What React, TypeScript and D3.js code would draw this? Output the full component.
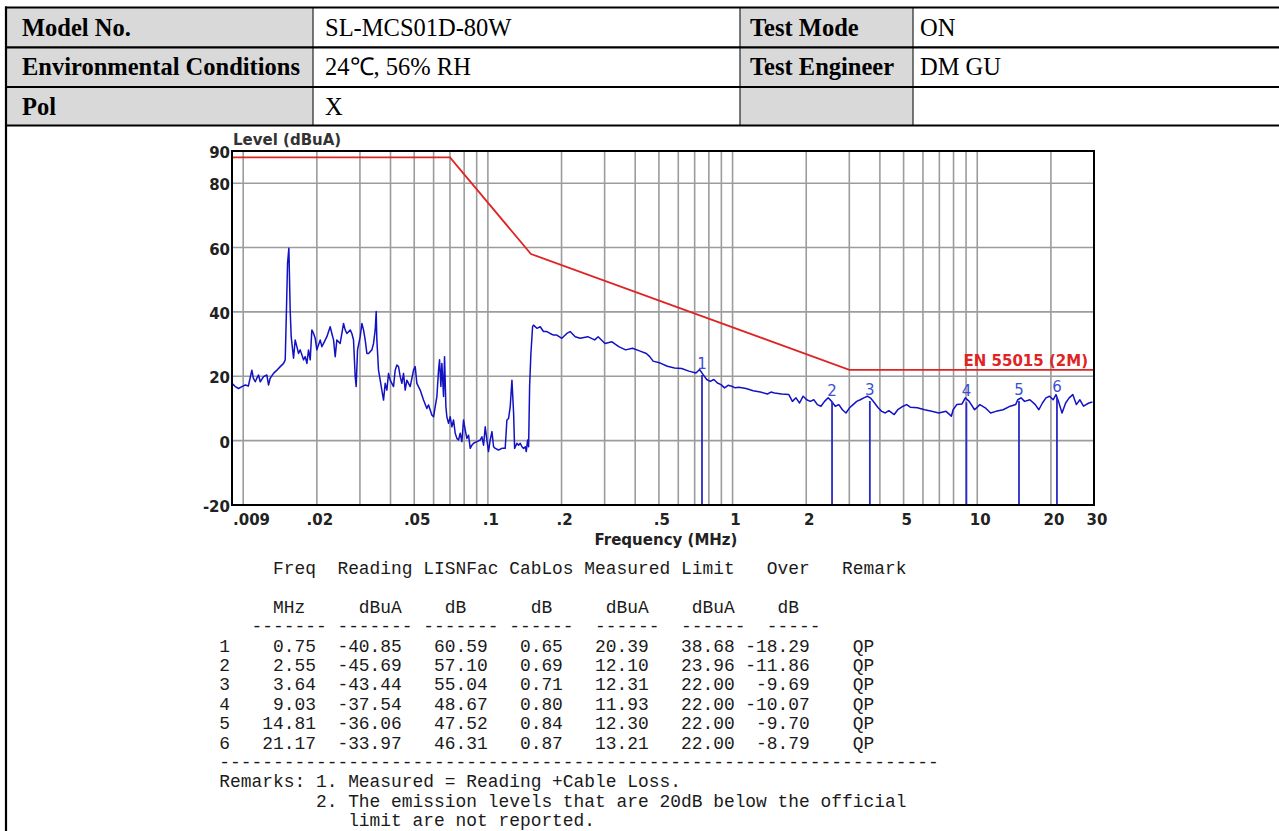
import React from 'react';
import * as d3 from 'd3';

// ---- header table ----
const headerRows = [
  ['Model No.', 'SL-MCS01D-80W', 'Test Mode', 'ON'],
  ['Environmental Conditions', '24℃, 56% RH', 'Test Engineer', 'DM GU'],
  ['Pol', 'X', '', ''],
];

// ---- chart data ----
const yTicks = [90, 80, 60, 40, 20, 0, -20];
const yGrid = [80, 60, 40, 20, 0];
const xTicks = [0.009, 0.02, 0.05, 0.1, 0.2, 0.5, 1, 2, 5, 10, 20, 30];
const xTickLabels = ['.009', '.02', '.05', '.1', '.2', '.5', '1', '2', '5', '10', '20', '30'];

// limit line EN 55015 (2M), [MHz, dBuA]
const limitLine: [number, number][] = [
  [0.009, 88], [0.07, 88], [0.15, 58], [3, 22], [30, 22],
];

// measured trace, [MHz, dBuA]
const trace: [number, number][] = [
  [0.009, 17.8], [0.00928, 16.8], [0.00957, 16.2], [0.00988, 16.8], [0.0102, 17.3],
  [0.0105, 17.0], [0.01085, 21.9], [0.0110, 19.4], [0.0112, 18.3], [0.01137, 19.4],
  [0.01155, 20.4], [0.01174, 18.3], [0.01211, 19.9], [0.01249, 20.4], [0.01269, 17.3],
  [0.01289, 19.4], [0.0133, 20.9], [0.01373, 21.9], [0.01417, 23.0], [0.01462, 24.0],
  [0.01485, 25.1], [0.01499, 37.5], [0.01518, 55.1], [0.01537, 59.8], [0.01556, 40.6],
  [0.01571, 32.3], [0.01606, 25.6], [0.01631, 31.3], [0.01657, 29.2], [0.01683, 27.1],
  [0.0171, 28.2], [0.01764, 25.1], [0.01792, 26.1], [0.01821, 24.0], [0.01849, 28.2],
  [0.01879, 25.1], [0.01908, 34.4], [0.01939, 33.3], [0.01969, 31.8], [0.0200, 28.2],
  [0.02064, 31.3], [0.02097, 29.2], [0.0213, 30.2], [0.02198, 32.3], [0.02267, 35.4],
  [0.02303, 33.3], [0.0234, 31.3], [0.02377, 26.1], [0.02414, 31.3], [0.02491, 30.2],
  [0.02571, 36.4], [0.02611, 34.4], [0.02653, 33.3], [0.02737, 34.4], [0.0278, 33.3],
  [0.02824, 31.3], [0.02869, 19.9], [0.02896, 16.8], [0.02933, 28.2], [0.03007, 32.3],
  [0.03055, 36.4], [0.03103, 34.4], [0.03152, 31.3], [0.03202, 27.1], [0.03253, 27.1],
  [0.03356, 28.2], [0.03409, 30.2], [0.03463, 34.4], [0.03496, 40.1], [0.03518, 31.3],
  [0.03573, 21.9], [0.0363, 18.8], [0.03687, 15.7], [0.03746, 12.6], [0.03805, 17.8],
  [0.03865, 15.7], [0.03926, 20.9], [0.03988, 18.8], [0.04115, 16.8], [0.0418, 21.9],
  [0.04246, 23.5], [0.04313, 23.0], [0.04382, 19.9], [0.04451, 17.8], [0.04521, 20.9],
  [0.04593, 15.7], [0.04665, 18.8], [0.04814, 16.8], [0.04968, 21.9], [0.05046, 23.0],
  [0.05126, 17.8], [0.05289, 15.7], [0.05458, 12.6], [0.05632, 10.0], [0.05721, 11.1],
  [0.05812, 9.5], [0.05903, 8.0], [0.05997, 7.4], [0.06092, 10.6], [0.06188, 13.7],
  [0.06286, 21.9], [0.06345, 25.1], [0.06426, 16.8], [0.06486, 24.0], [0.06589, 13.7],
  [0.06651, 26.1], [0.06735, 10.6], [0.06798, 7.4], [0.06906, 5.4], [0.07015, 7.4],
  [0.07126, 4.3], [0.07239, 6.4], [0.07353, 2.3], [0.07469, 0.7], [0.07588, 0.2],
  [0.07708, 2.3], [0.07829, -0.3], [0.07953, 6.4], [0.08079, 3.3], [0.08207, 0.7],
  [0.08337, 1.7], [0.08469, -2.4], [0.08602, -1.4], [0.08739, -0.8], [0.09017, -0.3],
  [0.09305, 0.2], [0.09452, 1.2], [0.09601, -1.4], [0.09753, 4.3], [0.09907, 0.2],
  [0.1006, -3.4], [0.1022, 0.2], [0.1039, 2.8], [0.1055, -1.9], [0.1072, -2.4],
  [0.1106, -2.9], [0.1141, -2.4], [0.1177, -2.4], [0.1196, 6.4], [0.1215, 6.9],
  [0.1234, 10.6], [0.1254, 18.8], [0.1266, 12.6], [0.1274, 8.5], [0.1286, -2.4],
  [0.1314, -0.8], [0.1335, -1.4], [0.1356, -0.8], [0.1378, -1.9], [0.1399, -2.4],
  [0.1422, -1.9], [0.1435, -3.4], [0.1453, 0.2], [0.1467, -1.9], [0.1481, 16.8],
  [0.1499, 27.1], [0.1523, 35.4], [0.1537, 35.9], [0.1586, 34.9], [0.1636, 35.4],
  [0.1688, 33.9], [0.1742, 33.9], [0.1797, 33.3], [0.1854, 32.8], [0.1913, 32.8],
  [0.2006, 31.8], [0.2102, 33.3], [0.2169, 33.9], [0.2274, 32.3], [0.2383, 31.8],
  [0.256, 32.3], [0.2731, 31.3], [0.2822, 32.3], [0.3012, 30.2], [0.3214, 30.7],
  [0.3426, 29.2], [0.3657, 28.2], [0.3903, 28.7], [0.4165, 27.9], [0.4444, 27.1],
  [0.4587, 26.1], [0.4735, 24.7], [0.5064, 24.1], [0.5416, 23.1], [0.5793, 22.6],
  [0.6196, 22.4], [0.6627, 21.6], [0.7087, 21.0], [0.7329, 22.1], [0.7582, 20.5],
  [0.7839, 19.0], [0.8107, 18.4], [0.8384, 19.0], [0.8671, 17.9], [0.8968, 17.4],
  [0.9274, 16.4], [0.9591, 17.2], [0.9918, 16.9], [1.0257, 16.4], [1.0608, 16.6],
  [1.1345, 16.2], [1.2135, 15.5], [1.2979, 15.1], [1.388, 14.5], [1.4354, 15.1],
  [1.4846, 14.8], [1.5877, 14.5], [1.6979, 14.3], [1.756, 12.2], [1.816, 13.3],
  [1.8782, 11.7], [1.9424, 13.8], [2.0088, 12.7], [2.0775, 12.2], [2.1485, 12.7],
  [2.2219, 11.2], [2.2978, 10.7], [2.3765, 12.2], [2.4577, 13.3], [2.5417, 12.2],
  [2.6285, 10.7], [2.7183, 11.2], [2.8112, 9.6], [2.9073, 8.6], [3.0069, 10.2],
  [3.1096, 11.2], [3.2158, 12.2], [3.3257, 12.7], [3.4393, 13.3], [3.5568, 13.8],
  [3.6784, 13.1], [3.8044, 11.7], [3.9344, 10.2], [4.0689, 9.1], [4.2079, 8.6],
  [4.3517, 9.3], [4.5768, 8.1], [4.7331, 9.6], [4.9779, 10.7], [5.148, 11.2],
  [5.3239, 10.4], [5.694, 10.2], [6.0903, 9.6], [6.5137, 9.1], [6.9664, 8.6],
  [7.4507, 9.1], [7.8362, 7.6], [7.9694, 9.6], [8.2417, 11.2], [8.6682, 11.4],
  [8.934, 13.3], [9.2683, 12.2], [9.7484, 9.6], [10.252, 11.2], [10.782, 10.2],
  [11.34, 8.6], [11.926, 9.1], [12.757, 9.6], [13.645, 10.7], [14.35, 11.2],
  [14.642, 12.7], [15.09, 13.3], [15.607, 12.2], [16.413, 12.7], [17.262, 11.2],
  [17.852, 9.6], [18.462, 11.7], [19.093, 13.3], [19.746, 13.8], [20.421, 12.7],
  [20.976, 14.3], [21.475, 12.2], [22.211, 8.6], [22.97, 11.7], [23.756, 13.3],
  [24.567, 14.3], [25.406, 11.2], [26.274, 12.7], [27.172, 10.7], [28.579, 11.7],
  [29.556, 12.0],
];

// ---- marker / result table ----
const markerNo = [1, 2, 3, 4, 5, 6];
const markerFreq = [0.75, 2.55, 3.64, 9.03, 14.81, 21.17];
const markerReading = [-40.85, -45.69, -43.44, -37.54, -36.06, -33.97];
const markerLisn = [60.59, 57.10, 55.04, 48.67, 47.52, 46.31];
const markerCable = [0.65, 0.69, 0.71, 0.80, 0.84, 0.87];
const markerMeasured = [20.39, 12.10, 12.31, 11.93, 12.30, 13.21];
const markerLimit = [38.68, 23.96, 22.00, 22.00, 22.00, 22.00];
const markerOver = [-18.29, -11.86, -9.69, -10.07, -9.70, -8.79];
const markerRemark = ['QP', 'QP', 'QP', 'QP', 'QP', 'QP'];

const tableHead = '     Freq  Reading LISNFac CabLos Measured Limit   Over   Remark';
const tableUnits = '     MHz     dBuA    dB      dB     dBuA    dBuA    dB';
const tableDash = '   ------- ------- ------- ------  ------  ------  -----';
const remarks = [
  'Remarks: 1. Measured = Reading +Cable Loss.',
  '         2. The emission levels that are 20dB below the official',
  '            limit are not reported.',
];

const W = 1279;
const H = 831;
const plot = { left: 232, right: 1094, top: 151, bottom: 505 };

const serif = '"Times New Roman", "Liberation Serif", serif';
const sans = '"DejaVu Sans", Verdana, sans-serif';
const mono = '"Courier New", "Liberation Mono", monospace';

export default function App() {
  const x = d3.scaleLog().domain([0.009, 30]).range([plot.left, plot.right]);
  const y = d3.scaleLinear().domain([-20, 90]).range([plot.bottom, plot.top]);
  const line = d3.line<[number, number]>().x((d) => x(d[0])).y((d) => y(d[1]));
  const gridX = x.ticks().filter((t) => t > 0.0092 && t < 29.5);

  const colX = [6, 313, 740, 913, W];
  const rowY = [7.5, 47.3, 87, 125.5];
  const colPad = [16, 12, 10, 7];

  const fmt = (v: number, w: number) => v.toFixed(2).padStart(w);
  const rows = markerNo.map((n, i) =>
    String(n) +
    fmt(markerFreq[i], 8) +
    fmt(markerReading[i], 8) +
    fmt(markerLisn[i], 8) +
    fmt(markerCable[i], 7) +
    fmt(markerMeasured[i], 8) +
    fmt(markerLimit[i], 8) +
    fmt(markerOver[i], 7) +
    '    ' + markerRemark[i]
  );
  const textLines: [number, string][] = [
    [0, tableHead], [2, tableUnits], [3, tableDash],
    ...rows.map((r, i) => [4 + i, r] as [number, string]),
    [10, '-'.repeat(67)],
    ...remarks.map((r, i) => [11 + i, r] as [number, string]),
  ];

  return (
    <svg width={W} height={H} style={{ position: 'absolute', left: 0, top: 0, background: '#fff' }}>
      {/* header table */}
      {headerRows.map((row, r) =>
        row.map((_, c) =>
          c % 2 === 0 ? (
            <rect key={`bg${r}${c}`} x={colX[c]} y={rowY[r]} width={colX[c + 1] - colX[c]}
              height={rowY[r + 1] - rowY[r]} fill="#d9d9d9" />
          ) : null
        )
      )}
      {[1, 2, 3].map((c) => (
        <line key={`cl${c}`} x1={colX[c]} x2={colX[c]} y1={rowY[0]} y2={rowY[3]} stroke="#333" strokeWidth={1.3} />
      ))}
      {rowY.map((ry, i) => (
        <line key={`rl${i}`} x1={5} x2={W} y1={ry} y2={ry} stroke="#000" strokeWidth={2.2} />
      ))}
      <line x1={6} x2={6} y1={6.4} y2={H} stroke="#000" strokeWidth={2.2} />
      {headerRows.map((row, r) =>
        row.map((txt, c) => (
          <text key={`ht${r}${c}`} x={colX[c] + colPad[c]} y={rowY[r] + 28}
            fontFamily={serif} fontSize={24.5} fontWeight={c % 2 === 0 ? 'bold' : 'normal'} fill="#000">
            {txt}
          </text>
        ))
      )}

      {/* grid */}
      {gridX.map((t) => (
        <line key={`gx${t}`} x1={x(t)} x2={x(t)} y1={plot.top} y2={plot.bottom} stroke="#9c9c9c" strokeWidth={1.6} />
      ))}
      {yGrid.map((t) => (
        <line key={`gy${t}`} x1={plot.left} x2={plot.right} y1={y(t)} y2={y(t)} stroke="#9c9c9c" strokeWidth={1.6} />
      ))}

      {/* limit */}
      <path d={line(limitLine) || ''} fill="none" stroke="#e02424" strokeWidth={1.8} />
      <text x={1088} y={366} textAnchor="end" fontFamily={sans} fontWeight="bold" fontSize={15} fill="#e02424">
        EN 55015 (2M)
      </text>

      {/* trace */}
      <path d={line(trace) || ''} fill="none" stroke="#1212c4" strokeWidth={1.5} strokeLinejoin="round" />

      {/* markers */}
      {markerFreq.map((f, i) => (
        <g key={`m${i}`}>
          <line x1={x(f)} x2={x(f)} y1={y(markerMeasured[i])} y2={plot.bottom} stroke="#2a2ac8" strokeWidth={1.8} />
          <text x={x(f)} y={y(markerMeasured[i]) - 6} textAnchor="middle" fontFamily={sans}
            fontSize={15} fill="#3a4fd4">
            {markerNo[i]}
          </text>
        </g>
      ))}

      {/* frame */}
      <rect x={plot.left} y={plot.top} width={plot.right - plot.left} height={plot.bottom - plot.top}
        fill="none" stroke="#000" strokeWidth={2} />

      {/* axes labels */}
      {yTicks.map((t) => (
        <text key={`yt${t}`} x={plot.left - 2} y={y(t) + 7} textAnchor="end" fontFamily={sans}
          fontWeight="bold" fontSize={15} fill="#222">
          {t}
        </text>
      ))}
      {xTicks.map((t, i) => (
        <text key={`xt${t}`} x={i === 0 ? plot.left + 1 : x(t) + 3} y={525}
          textAnchor={i === 0 ? 'start' : 'middle'} fontFamily={sans} fontWeight="bold" fontSize={15} fill="#222">
          {xTickLabels[i]}
        </text>
      ))}
      <text x={plot.left + 1} y={145} fontFamily={sans} fontWeight="bold" fontSize={15} fill="#333">
        Level (dBuA)
      </text>
      <text x={(plot.left + plot.right) / 2 + 3} y={545} textAnchor="middle" fontFamily={sans}
        fontWeight="bold" fontSize={15} fill="#222">
        Frequency (MHz)
      </text>

      {/* result table */}
      {textLines.map(([ln, s]) => (
        <text key={`tl${ln}`} x={219.3} y={574 + ln * 19.4} fontFamily={mono} fontSize={17.9}
          fill="#1a1a1a" style={{ whiteSpace: 'pre' }}>
          {s}
        </text>
      ))}
    </svg>
  );
}
